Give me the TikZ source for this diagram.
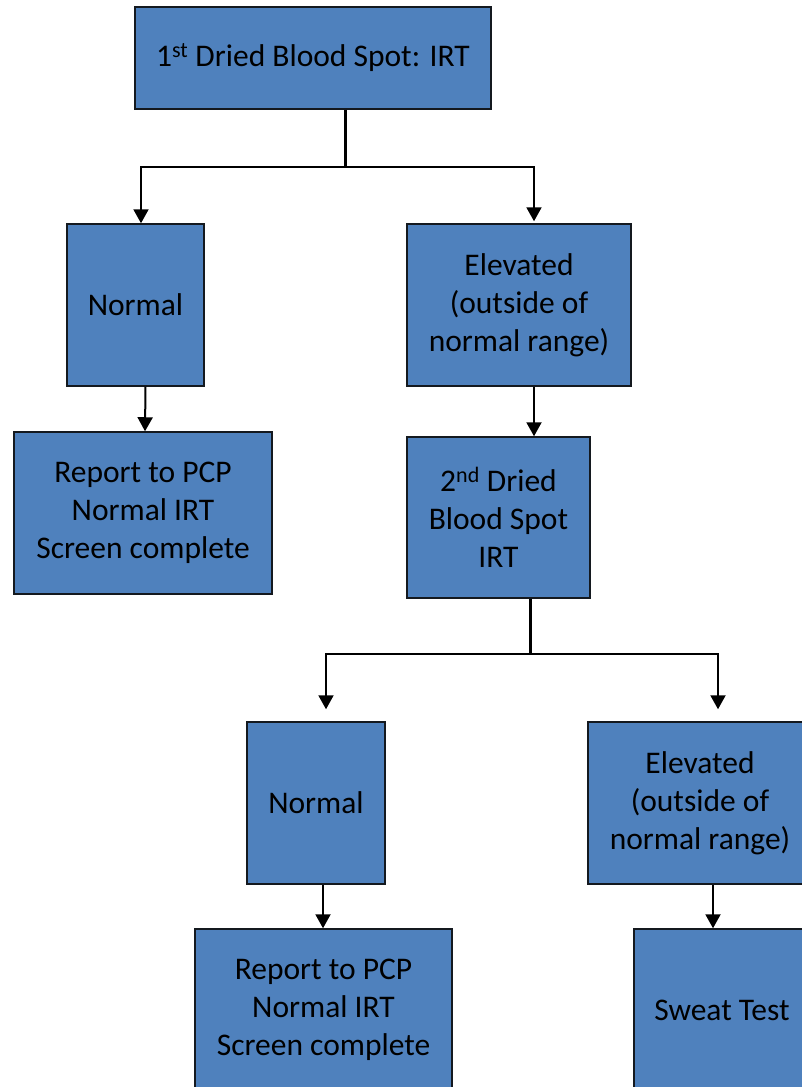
\documentclass[tikz,border=0pt]{standalone}
\usepackage{fontspec}
\setmainfont{Carlito}
\usepackage{xcolor}
\usetikzlibrary{arrows.meta,positioning}
\definecolor{boxblue}{HTML}{4F81BD}
\definecolor{boxline}{HTML}{14191F}

\begin{document}
\begin{tikzpicture}[x=1pt,y=-1pt,>={Triangle[width=15pt,length=14pt]}]
        \tikzset{block/.style= {draw=boxline, fill=boxblue, line width=1.5pt, rectangle, align=center,
                 font=\fontsize{31.5}{38}\selectfont, inner sep=0pt},
        link/.style={draw, line width=2pt},
        trunk/.style={draw, line width=3pt}
        }
        \clip (0,0) rectangle (802,1087);
        \node [block, minimum width=356pt, minimum height=102pt] (dbs1) at (313,58) {1\textsuperscript{st} Dried Blood Spot: IRT};
        \node [block, minimum width=137pt, minimum height=162pt] (norm1) at (135.5,305) {Normal};
        \node [block, minimum width=224pt, minimum height=162pt] (elev1) at (519,305) {Elevated\\(outside of\\normal range)};
        \node [block, minimum width=258pt, minimum height=162pt] (rep1) at (143,513) {Report to PCP\\Normal IRT\\Screen complete};
        \node [block, minimum width=183pt, minimum height=161pt] (dbs2) at (498.5,517.5) {2\textsuperscript{nd} Dried\\Blood Spot\\IRT};
        \node [block, minimum width=138pt, minimum height=162pt] (norm2) at (316,803) {Normal};
        \node [block, minimum width=224pt, minimum height=162pt] (elev2) at (700,803) {Elevated\\(outside of\\normal range)};
        \node [block, minimum width=257pt, minimum height=162pt] (rep2) at (323.5,1010) {Report to PCP\\Normal IRT\\Screen complete};
        \node [block, minimum width=176pt, minimum height=162pt] (sweat) at (722,1010) {Sweat Test};
        \coordinate (split1) at (345,167);  %% junction under first spot
        \coordinate (split2) at (530,654);  %% junction under second spot

%% paths
        \path[trunk] (dbs1.south -| split1) -- (split1);
        \path[link,->] (split1) -| ([xshift=5.5pt]norm1.north);
        \path[link,->] (split1) -| ([xshift=15pt,yshift=2pt]elev1.north);
        \path[link,->] ([xshift=10pt]norm1.south) -- ([xshift=2pt]rep1.north);
        \path[link,->] ([xshift=15pt]elev1.south) -- ([xshift=15pt]elev1.south |- dbs2.north);
        \path[trunk] (dbs2.south -| split2) -- (split2);
        \path[link,->] (split2) -| ([xshift=10pt,yshift=12pt]norm2.north);
        \path[link,->] (split2) -| ([xshift=18pt,yshift=12pt]elev2.north);
        \path[link,->] ([xshift=7pt]norm2.south) -- ([xshift=7pt]norm2.south |- rep2.north);
        \path[link,->] ([xshift=13pt]elev2.south) -- ([xshift=13pt]elev2.south |- sweat.north);
    \end{tikzpicture}
\end{document}
